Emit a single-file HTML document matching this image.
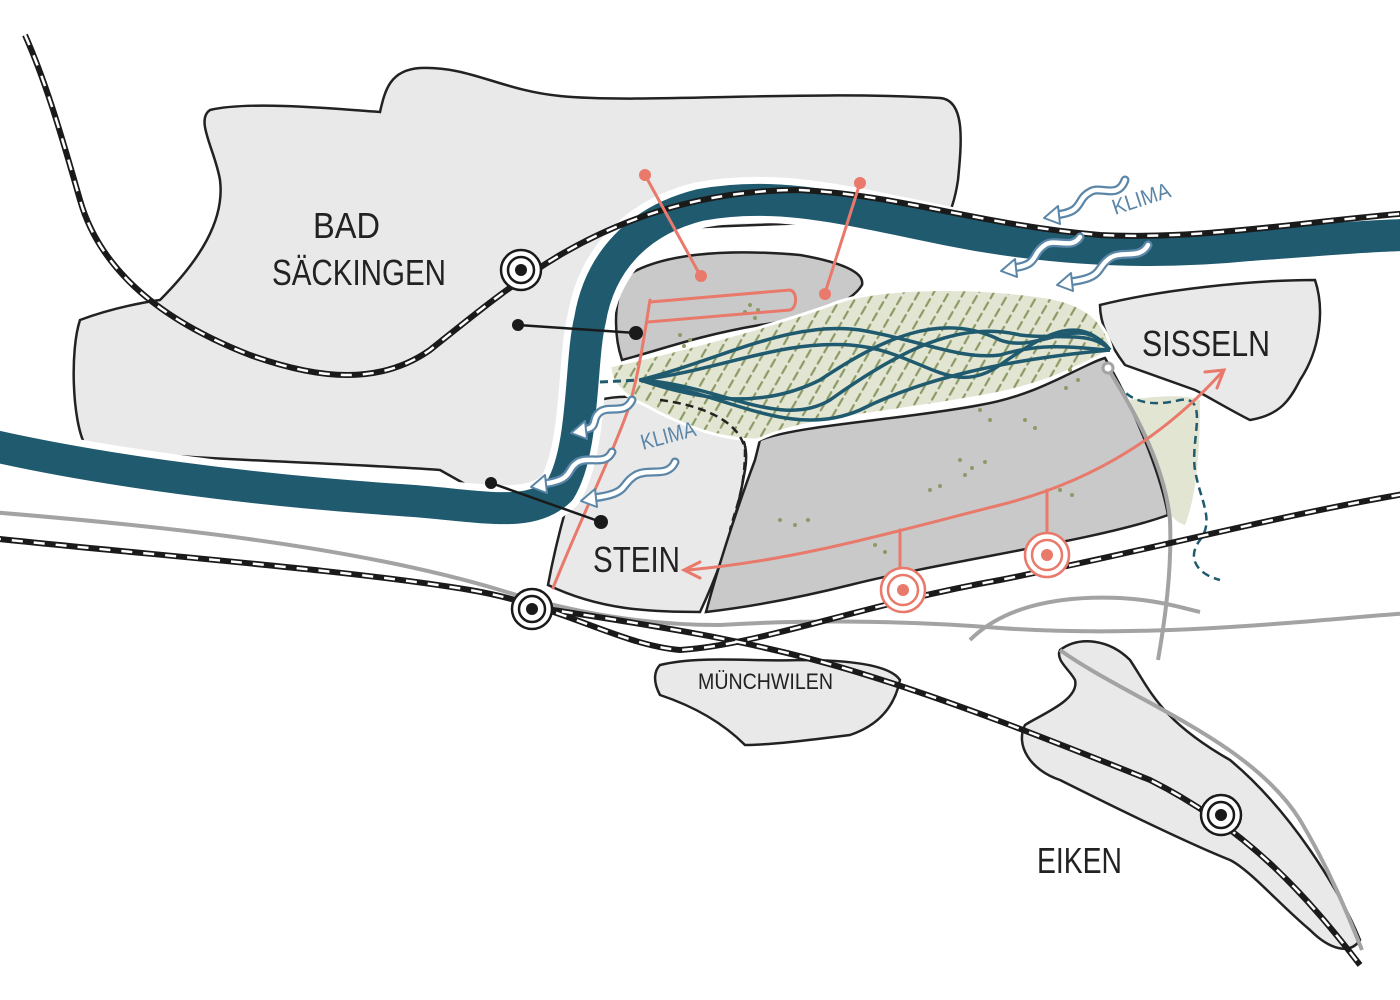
<!DOCTYPE html>
<html><head><meta charset="utf-8"><style>
html,body{margin:0;padding:0;background:#fff;}
svg{display:block}
text{font-family:"Liberation Sans Narrow","Liberation Sans",sans-serif;fill:#222}
</style></head><body>
<svg width="1400" height="1000" viewBox="0 0 1400 1000" xmlns="http://www.w3.org/2000/svg">
<defs>
<pattern id="hatch" width="13" height="13" patternUnits="userSpaceOnUse" patternTransform="rotate(30)">
<rect width="13" height="13" fill="#e2e5d2"/>
<line x1="6" y1="2" x2="6" y2="10" stroke="#8c9a66" stroke-width="2.2" stroke-linecap="round"/>
</pattern>
</defs>

<!-- Bad Säckingen -->
<path d="M210,110 C250,100 350,110 380,112 C385,90 390,70 420,68 C470,66 500,90 560,96 C640,104 800,90 940,98 C965,100 962,140 958,180 C955,200 950,215 945,218 L620,230 C590,260 570,300 565,360 C560,430 560,480 520,515 L440,470 C300,460 150,460 85,445 C72,420 70,350 80,320 C120,305 160,300 160,300 C200,260 225,220 220,180 C215,150 195,120 210,110 Z" fill="#e9e9e9" stroke="#222" stroke-width="2.5"/>

<!-- Stein -->
<path d="M548,585 C560,520 580,460 600,400 C630,392 660,400 700,410 C740,420 750,440 745,470 C735,530 715,580 700,612 C650,612 600,610 548,585 Z" fill="#e9e9e9" stroke="#222" stroke-width="2.5"/>
<!-- Sisseln -->
<path d="M1100,305 C1160,290 1250,280 1315,280 C1325,310 1320,350 1300,380 C1290,400 1280,415 1250,420 C1230,410 1205,395 1195,390 L1125,365 C1110,345 1100,325 1100,305 Z" fill="#e9e9e9" stroke="#222" stroke-width="2.5"/>
<path d="M1130,400 C1160,395 1190,395 1200,400 C1200,460 1195,500 1185,525 C1165,520 1150,480 1140,450 Z" fill="#e2e5d2"/>
<!-- Münchwilen -->
<path d="M660,665 C700,655 760,662 800,660 C850,660 890,665 900,680 C895,705 880,725 850,735 C810,740 770,745 745,745 C720,720 690,705 660,695 C652,680 655,670 660,665 Z" fill="#e9e9e9" stroke="#222" stroke-width="2.5"/>
<!-- Eiken -->
<path d="M1060,650 C1080,635 1110,640 1130,660 C1150,690 1160,720 1230,760 C1290,810 1340,890 1360,940 C1350,955 1330,950 1310,930 C1280,905 1250,870 1230,860 C1180,840 1100,800 1060,780 C1030,770 1015,745 1025,725 C1040,715 1080,700 1075,680 C1070,670 1055,660 1060,650 Z" fill="#e9e9e9" stroke="#222" stroke-width="2.5"/>

<!-- Island -->
<path d="M628,275 C660,255 720,248 800,255 C840,262 865,272 862,285 C850,305 810,318 760,325 C700,335 660,350 622,360 C612,330 615,290 628,275 Z" fill="#c9c9c9" stroke="#222" stroke-width="2.5"/>
<!-- Big field -->
<path d="M760,440 C800,425 900,420 980,405 C1040,395 1080,365 1105,358 C1130,400 1160,470 1168,515 C1100,540 950,560 850,585 C790,600 740,608 706,612 C720,560 740,500 755,460 Z" fill="#c9c9c9" stroke="#222" stroke-width="2.5"/>
<!-- Hatched zone -->
<path d="M610,366 C660,355 760,330 830,305 C870,288 960,285 1040,296 C1085,302 1105,320 1112,350 C1090,360 1060,380 1000,393 C900,413 800,418 758,440 C720,440 680,425 645,405 C620,395 610,380 610,366 Z" fill="url(#hatch)" stroke="#fff" stroke-width="3"/>

<!-- dotted specks -->
<g fill="#8c9a66">
<circle cx="750" cy="305" r="2"/><circle cx="758" cy="310" r="2"/><circle cx="745" cy="312" r="2"/><circle cx="755" cy="318" r="2"/>
<circle cx="680" cy="335" r="2"/><circle cx="690" cy="340" r="2"/><circle cx="684" cy="346" r="2"/>
<circle cx="1070" cy="370" r="2"/><circle cx="1078" cy="380" r="2"/><circle cx="1066" cy="388" r="2"/>
<circle cx="980" cy="410" r="2"/><circle cx="990" cy="420" r="2"/><circle cx="1025" cy="420" r="2"/><circle cx="1035" cy="428" r="2"/>
<circle cx="960" cy="460" r="2"/><circle cx="972" cy="468" r="2"/><circle cx="985" cy="462" r="2"/><circle cx="965" cy="475" r="2"/>
<circle cx="930" cy="490" r="2"/><circle cx="940" cy="486" r="2"/><circle cx="1060" cy="490" r="2"/><circle cx="1072" cy="495" r="2"/>
<circle cx="780" cy="520" r="2"/><circle cx="795" cy="525" r="2"/><circle cx="808" cy="520" r="2"/><circle cx="875" cy="545" r="2"/><circle cx="885" cy="552" r="2"/>
</g>

<!-- River -->
<path d="M-10,445 C100,470 250,490 400,500 C480,505 530,520 560,490 C585,450 580,360 590,320 C600,260 640,220 700,205 C780,190 850,210 950,230 C1050,250 1150,255 1250,245 C1320,240 1380,235 1410,235" fill="none" stroke="#fff" stroke-width="46"/>
<path d="M-10,445 C100,470 250,490 400,500 C480,505 530,520 560,490 C585,450 580,360 590,320 C600,260 640,220 700,205 C780,190 850,210 950,230 C1050,250 1150,255 1250,245 C1320,240 1380,235 1410,235" fill="none" stroke="#1f5a6e" stroke-width="32"/>

<!-- braided streams -->
<g fill="none" stroke="#1f5a6e" stroke-width="3.5">
<path d="M640,380 C720,385 780,430 830,400 C900,350 960,320 1020,335 C1060,340 1090,330 1110,350"/>
<path d="M640,380 C720,370 780,340 850,345 C920,350 950,400 1000,365 C1050,330 1080,315 1110,350"/>
<path d="M640,380 C700,400 760,410 820,380 C880,340 940,310 1000,340 C1040,355 1080,310 1110,350"/>
<path d="M640,380 C720,360 790,320 860,330 C920,340 960,360 1000,355 C1050,340 1090,350 1110,350"/>
<path d="M640,380 C730,395 790,440 860,410 C920,380 1000,360 1110,350"/>
</g>
<path d="M600,382 L640,380" stroke="#1f5a6e" stroke-width="3" stroke-dasharray="8,5"/>
<path d="M1112,372 C1120,395 1140,410 1180,400 C1210,395 1190,440 1195,470 C1200,500 1215,520 1200,540 C1185,560 1200,575 1220,580" fill="none" stroke="#1f5a6e" stroke-width="2.5" stroke-dasharray="8,5"/>
<path d="M660,400 C700,405 740,420 745,450 C745,490 735,510 730,530" fill="none" stroke="#222" stroke-width="2.5" stroke-dasharray="8,5"/>

<!-- roads -->
<g fill="none" stroke="#a3a3a3" stroke-width="4">
<path d="M-10,512 C150,525 350,545 500,590 C580,615 650,625 720,625 C800,620 900,620 1000,628 C1100,635 1200,630 1300,622 C1350,618 1380,615 1410,613"/>
<path d="M1110,372 C1140,420 1165,470 1170,520 C1172,570 1165,620 1158,660"/>
<path d="M1060,650 C1130,700 1250,740 1300,820 C1330,870 1350,920 1362,950"/>
<path d="M970,640 C1000,610 1050,595 1120,598 C1160,600 1190,610 1200,612"/>
</g>
<circle cx="1108" cy="368" r="5" fill="#fff" stroke="#a3a3a3" stroke-width="3"/>

<!-- railways -->
<g fill="none">
<path id="r1" d="M25,35 C45,80 60,130 80,200 C100,270 160,320 250,355 C320,380 380,385 430,350 C480,310 510,285 560,255 C620,220 700,190 800,190 C900,195 980,225 1100,235 C1200,240 1300,222 1410,213"/>
<path id="r2" d="M-10,538 C150,555 350,570 470,590 C560,605 620,645 680,650 C760,645 860,605 1000,580 C1150,550 1280,515 1410,493"/>
<path id="r3" d="M540,608 C650,625 750,640 850,670 C950,700 1050,740 1150,780 C1250,830 1310,900 1360,965"/>
</g>
<g fill="none" stroke="#1a1a1a" stroke-width="6">
<use href="#r1"/><use href="#r2"/><use href="#r3"/>
</g>
<g fill="none" stroke="#fff" stroke-width="2.5" stroke-dasharray="11,11">
<use href="#r1"/><use href="#r2"/><use href="#r3"/>
</g>

<!-- red lines -->
<g fill="none" stroke="#e8796b" stroke-width="3" stroke-linecap="round">
<path d="M553,588 C580,520 610,460 628,410 C640,370 645,330 650,300"/>
<path d="M650,302 L790,290 C798,292 797,308 790,310 L648,322"/>
<path d="M645,175 L700,275"/>
<path d="M860,183 L825,293"/>
<path d="M688,570 C800,560 900,530 1000,505 C1100,480 1170,430 1222,372"/>
<path d="M900,530 L900,585"/>
<path d="M1047,490 L1047,550"/>
<path d="M1205,372 L1224,370 L1217,388"/>
<path d="M700,562 L684,570 L700,578"/>
</g>
<g fill="#e8796b">
<circle cx="645" cy="175" r="6"/><circle cx="860" cy="183" r="6"/><circle cx="701" cy="276" r="6"/><circle cx="825" cy="294" r="6"/>
</g>
<g>
<circle cx="903" cy="590" r="22" fill="#fff" stroke="#e8796b" stroke-width="2.5"/><circle cx="903" cy="590" r="15" fill="#fff" stroke="#e8796b" stroke-width="2.5"/><circle cx="903" cy="590" r="6" fill="#e8796b"/>
<circle cx="1047" cy="555" r="22" fill="#fff" stroke="#e8796b" stroke-width="2.5"/><circle cx="1047" cy="555" r="15" fill="#fff" stroke="#e8796b" stroke-width="2.5"/><circle cx="1047" cy="555" r="6" fill="#e8796b"/>
</g>

<!-- black connectors -->
<g stroke="#1a1a1a" stroke-width="2.5">
<line x1="518" y1="325" x2="636" y2="333"/><line x1="491" y1="483" x2="601" y2="522"/>
</g>
<g fill="#1a1a1a"><circle cx="518" cy="325" r="6"/><circle cx="636" cy="333" r="7"/><circle cx="491" cy="483" r="6"/><circle cx="601" cy="522" r="7"/></g>

<!-- stations -->
<g stroke="#1a1a1a" stroke-width="2.5" fill="#fff">
<circle cx="521" cy="270" r="20"/><circle cx="521" cy="270" r="13"/>
<circle cx="532" cy="609" r="20"/><circle cx="532" cy="609" r="13"/>
<circle cx="1221" cy="815" r="20"/><circle cx="1221" cy="815" r="13"/>
</g>
<g fill="#1a1a1a"><circle cx="521" cy="270" r="6"/><circle cx="532" cy="609" r="6"/><circle cx="1221" cy="815" r="6"/></g>

<!-- klima arrows -->
<g fill="none" stroke-linecap="round">
<g stroke="#5b86a8" stroke-width="9">
<path id="k1" d="M1125,180 C1118,200 1100,185 1090,192 C1075,200 1085,212 1055,215"/>
<path id="k2" d="M1080,237 C1072,250 1055,238 1045,245 C1030,255 1040,265 1012,268"/>
<path id="k3" d="M1148,245 C1140,260 1122,250 1110,258 C1095,268 1105,278 1068,282"/>
<path id="k4" d="M632,400 C625,415 610,405 600,412 C590,420 600,428 582,430"/>
<path id="k5" d="M612,452 C605,466 590,456 578,462 C565,470 575,480 542,484"/>
<path id="k6" d="M675,462 C668,478 650,468 636,475 C620,484 630,494 592,498"/>
</g>
<g stroke="#fff" stroke-width="4.5">
<use href="#k1"/><use href="#k2"/><use href="#k3"/><use href="#k4"/><use href="#k5"/><use href="#k6"/>
</g>
</g>
<g fill="#fff" stroke="#5b86a8" stroke-width="2" stroke-linejoin="round">
<polygon points="1058,206 1044,218 1060,224"/>
<polygon points="1015,259 1001,271 1017,277"/>
<polygon points="1071,273 1057,285 1073,291"/>
<polygon points="585,421 571,433 587,439"/>
<polygon points="545,475 531,487 547,493"/>
<polygon points="595,489 581,501 597,507"/>
</g>
<text x="1115" y="215" font-size="22" style="fill:#5b86a8" transform="rotate(-18 1115 215)" textLength="60" lengthAdjust="spacingAndGlyphs">KLIMA</text>
<text x="643" y="450" font-size="22" style="fill:#5b86a8" transform="rotate(-15 643 450)" textLength="56" lengthAdjust="spacingAndGlyphs">KLIMA</text>

<!-- labels -->
<text x="313" y="238" font-size="36" textLength="67" lengthAdjust="spacingAndGlyphs">BAD</text>
<text x="272" y="285" font-size="36" textLength="174" lengthAdjust="spacingAndGlyphs">SÄCKINGEN</text>
<text x="1142" y="356" font-size="36" textLength="128" lengthAdjust="spacingAndGlyphs">SISSELN</text>
<text x="593" y="572" font-size="36" textLength="87" lengthAdjust="spacingAndGlyphs">STEIN</text>
<text x="698" y="689" font-size="22" textLength="135" lengthAdjust="spacingAndGlyphs">MÜNCHWILEN</text>
<text x="1037" y="873" font-size="36" textLength="85" lengthAdjust="spacingAndGlyphs">EIKEN</text>
</svg>
</body></html>
